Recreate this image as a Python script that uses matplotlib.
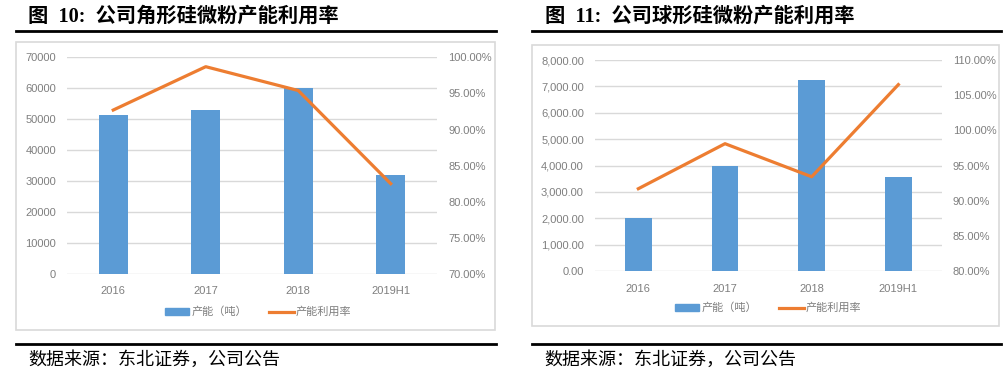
import numpy as np
import matplotlib
matplotlib.use("Agg")
import matplotlib.pyplot as plt
from matplotlib.patches import Rectangle, Patch
from matplotlib.lines import Line2D
from matplotlib.ticker import FuncFormatter, MultipleLocator

plt.rcParams['font.family'] = ['Liberation Sans', 'Noto Sans CJK SC', 'DejaVu Sans']

# data
years = ['2016', '2017', '2018', '2019H1']
cap_angular = [51400, 52900, 60000, 32000]          # 产能（吨）
util_angular = [92.7, 98.7, 95.4, 82.5]             # 产能利用率 %
cap_spherical = [2010, 3990, 7240, 3560]
util_spherical = [91.7, 98.1, 93.4, 106.5]

titles = ['图  10:  公司角形硅微粉产能利用率', '图  11:  公司球形硅微粉产能利用率']
source = '数据来源：东北证券，公司公告'
legend_labels = ['产能（吨）', '产能利用率']

bar_c = '#5b9bd5'
line_c = '#ed7d31'
grid_c = '#d9d9d9'
tick_c = '#7f7f7f'

W, H = 1005, 369
fig = plt.figure(figsize=(W / 100, H / 100), dpi=100)

def fx(x):
    return x / W

def fy(y):
    return 1 - y / H

# panel setup: plot box (px), frame box (px), title x, legend center
panels = [
    dict(ax=(67, 57.3, 437, 274), frame=(16, 42, 495, 330), line=(16, 496), tx=28,
         leg=(258, 312), cap=cap_angular, util=util_angular,
         ylim=(0, 70000), ystep=10000, y2lim=(70, 100), fmt=lambda v, p: f'{v:.0f}'),
    dict(ax=(595, 60, 941.7, 271), frame=(532, 45, 999, 326), line=(532, 1001), tx=545,
         leg=(768, 308), cap=cap_spherical, util=util_spherical,
         ylim=(0, 8000), ystep=1000, y2lim=(80, 110), fmt=lambda v, p: f'{v:,.2f}'),
]

for i, p in enumerate(panels):
    x0, y0, x1, y1 = p['frame']
    fig.patches.append(Rectangle((fx(x0), fy(y1)), fx(x1 - x0), (y1 - y0) / H,
                                 transform=fig.transFigure, fill=False,
                                 edgecolor='#d9d9d9', lw=1.2))
    # title + rules
    fig.text(fx(p['tx']), fy(17), titles[i], fontsize=14.6, fontweight='bold',
             family=['Liberation Serif', 'Noto Sans CJK SC'], va='center', ha='left')
    lx0, lx1 = p['line']
    fig.add_artist(Line2D([fx(lx0), fx(lx1)], [fy(31), fy(31)], color='black', lw=2,
                          transform=fig.transFigure))
    fig.add_artist(Line2D([fx(lx0), fx(lx1)], [fy(344), fy(344)], color='black', lw=2,
                          transform=fig.transFigure))
    fig.text(fx(lx0 + 12), fy(360), source, fontsize=13, family=['Noto Sans CJK SC'],
             va='center', ha='left')

    ax0, ay0, ax1, ay1 = p['ax']
    ax = fig.add_axes([fx(ax0), fy(ay1), fx(ax1 - ax0), (ay1 - ay0) / H])
    x = np.arange(len(years))
    ax.bar(x, p['cap'], width=0.31, color=bar_c, zorder=2)
    ax.set_xlim(-0.5, 3.5)
    ax.set_ylim(*p['ylim'])
    ax.yaxis.set_major_locator(MultipleLocator(p['ystep']))
    ax.yaxis.set_major_formatter(FuncFormatter(p['fmt']))
    ax.grid(axis='y', color=grid_c, lw=1, zorder=0)
    ax.set_axisbelow(True)
    for s in ax.spines.values():
        s.set_visible(False)
    ax.set_xticks(x)
    ax.set_xticklabels(years)
    ax.tick_params(length=0, colors=tick_c, labelsize=8, pad=8)
    ax.tick_params(axis='x', pad=9)

    ax2 = ax.twinx()
    ax2.plot(x, p['util'], color=line_c, lw=2.3, zorder=3)
    ax2.set_ylim(*p['y2lim'])
    ax2.yaxis.set_major_locator(MultipleLocator(5))
    ax2.yaxis.set_major_formatter(FuncFormatter(lambda v, q: f'{v:.2f}%'))
    for s in ax2.spines.values():
        s.set_visible(False)
    ax2.tick_params(length=0, colors=tick_c, labelsize=8, pad=8)

    handles = [Patch(color=bar_c), Line2D([], [], color=line_c, lw=2.3)]
    lcx, lcy = p['leg']
    fig.legend(handles, legend_labels, loc='center', bbox_to_anchor=(fx(lcx), fy(lcy)),
               ncol=2, frameon=False, fontsize=8, labelcolor=tick_c,
               handlelength=2.2, handleheight=0.5, handletextpad=0.2, columnspacing=2.0)

fig.savefig('out.png', dpi=100)
